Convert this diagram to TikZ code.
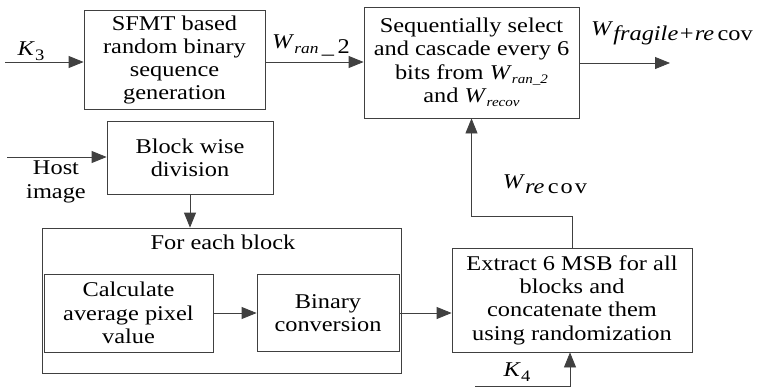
\documentclass[tikz,border=0pt]{standalone}
\usepackage{fontspec}
\setmainfont{Liberation Serif}[FakeStretch=1.16]
\usetikzlibrary{arrows.meta}
\newcommand{\lowsub}[2][14]{\raisebox{-4.5pt}{\fontsize{#1}{#1}\selectfont #2}}
\tikzset{box/.style={draw=black!75,line width=.8pt,rectangle,align=center,inner sep=0pt}}
\tikzset{flow/.style={draw=black!75,line width=.8pt,-{Triangle[length=15pt,width=12pt]}}}
\tikzset{lbl/.style={inner sep=0pt,align=center}}

\begin{document}
\begin{tikzpicture}
                [x=1pt,y=-1pt,font=\fontsize{21}{23.3}\selectfont]
                \useasboundingbox (0,0) rectangle (762,389);
                \node [box,minimum width=181pt,minimum height=99pt] (sfmt) at (174.5,60) {SFMT based\\random binary\\sequence\\generation};
                \node [box,minimum width=215pt,minimum height=111pt] (seq) at (471.5,62.5) {Sequentially select\\and cascade every 6\\bits from \textit{W}\lowsub[13]{\itshape ran\_2}\\and \textit{W}\lowsub[13]{\itshape recov}};
                \node [box,minimum width=166pt,minimum height=73pt] (blk) at (190,157.5) {Block wise\\division};
                \node [box,minimum width=359pt,minimum height=145pt] (each) at (221.5,300.5) {};
                \node [lbl] (eachlbl) at (223,242) {For each block};
                \node [box,minimum width=169pt,minimum height=78pt] (calc) at (128.5,313) {Calculate\\average pixel\\value};
                \node [box,minimum width=142pt,minimum height=77pt] (bin) at (328,313) {Binary\\conversion};
                \node [box,minimum width=240pt,minimum height=104pt] (ext) at (572,300) {Extract 6 MSB for all\\blocks and\\concatenate them\\using randomization};
                
                \coordinate (k3) at (5,62);
                \coordinate (host) at (7,157);
                \coordinate (out) at (670,63);
                \coordinate (k4) at (475,386);
                
                \node [lbl] (k3lbl) at (31,51) {\textit{K}\lowsub[16]{3}};
                \node [lbl] (wran) at (311,45) {\textit{W}\raisebox{-5pt}{{\fontsize{15}{15}\selectfont\itshape ran}\,\_\,2}};
                \node [lbl] (wout) at (672,33) {\textit{W}\raisebox{-5pt}{\itshape fragile+re\upshape\,cov}};
                \node [lbl] (wrec) at (545,184) {\textit{W}\raisebox{-5pt}{\itshape re\upshape\,c\hspace{2pt}o\hspace{2pt}v}};
                \node [lbl] (hostlbl) at (56,182) {Host\\image};
                \node [lbl] (k4lbl) at (517,372) {\textit{K}\lowsub[16]{4}};
                
                \draw [flow] (k3) -- (k3 -| sfmt.west);
                \draw [flow] (sfmt.east |- k3) -- (k3 -| seq.west);
                \draw [flow] (seq.east |- out) -- (out);
                \draw [flow] (host) -- (host -| blk.west);
                \draw [flow] (blk.south) -- (blk.south |- each.north);
                \draw [flow] (calc) -- (bin);
                \draw [flow] (bin.east) -- (bin.east -| ext.west);
                \draw [flow] (ext.north) -- ++(0,-31) -| (seq.south);
                \draw [flow] (k4) -| ([xshift=-2pt]ext.south);
            \end{tikzpicture}
\end{document}
